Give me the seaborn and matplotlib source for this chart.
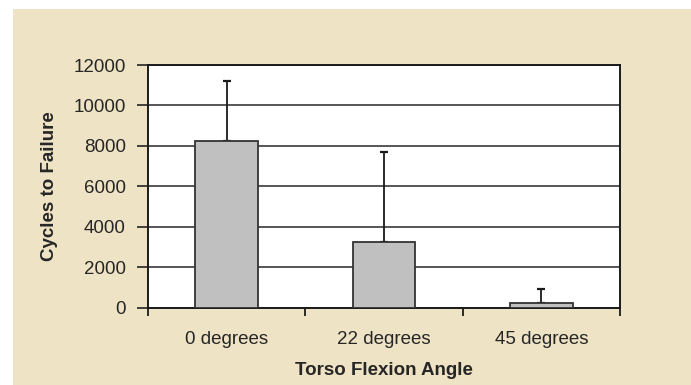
import matplotlib
matplotlib.use("Agg")
import matplotlib.pyplot as plt
from matplotlib.patches import Rectangle
import numpy as np
import seaborn as sns

# values
categories = ["0 degrees", "22 degrees", "45 degrees"]
cycles_mean = [8250, 3250, 230]
cycles_err = [2950, 4450, 670]   # upper error only
y_ticks = [0, 2000, 4000, 6000, 8000, 10000, 12000]

sns.set_style("white")
plt.rcParams["font.family"] = ["Liberation Sans", "DejaVu Sans"]
plt.rcParams["text.color"] = "#1a1a1a"

fig = plt.figure(figsize=(6.91, 3.85), dpi=100)
fig.patch.set_facecolor("white")
# beige panel behind the chart
fig.patches.append(Rectangle((13 / 691, 0), 1, (385 - 9) / 385,
                             transform=fig.transFigure, facecolor="#EFE3C5",
                             edgecolor="none", zorder=-10))

ax = fig.add_axes([148 / 691, (385 - 307.5) / 385, 472 / 691, (307.5 - 65) / 385])
ax.set_facecolor("white")

sns.barplot(x=categories, y=cycles_mean, color="#C0C0C0", edgecolor="#333333",
            linewidth=1.3, width=0.4, saturation=1, ax=ax, zorder=3)
pos = np.arange(len(categories))
ax.errorbar(pos, cycles_mean, yerr=[np.zeros(len(pos)), cycles_err], fmt="none",
            ecolor="#1a1a1a", elinewidth=1.3, capsize=3, capthick=1.6, zorder=2)

ax.set_xlim(-0.5, 2.5)
ax.set_ylim(0, 12000)
ax.set_yticks(y_ticks)
ax.set_yticklabels([str(v) for v in y_ticks])

# category ticks sit at boundaries, labels in between
ax.set_xticks([-0.5, 0.5, 1.5, 2.5])
ax.set_xticklabels([])
ax.set_xticks(pos, minor=True)
ax.set_xticklabels(categories, minor=True)
ax.tick_params(axis="x", which="major", direction="out", length=6, width=1.3,
               color="#1a1a1a", bottom=True)
ax.tick_params(axis="x", which="minor", length=0, pad=17, labelsize=13.5)
ax.tick_params(axis="y", direction="out", length=8, width=1.3, color="#333333",
               left=True, pad=8, labelsize=13.5)

ax.yaxis.grid(True, color="#3a3a3a", linewidth=1.2)
ax.xaxis.grid(False)
ax.set_axisbelow(True)

for s in ax.spines.values():
    s.set_visible(True)
    s.set_color("#1a1a1a")
    s.set_linewidth(1.4)

ax.set_xlabel("Torso Flexion Angle", fontsize=13.5, fontweight="bold", labelpad=10)
ax.set_ylabel("Cycles to Failure", fontsize=13.5, fontweight="bold", labelpad=11)

fig.savefig("out.png", dpi=100)
